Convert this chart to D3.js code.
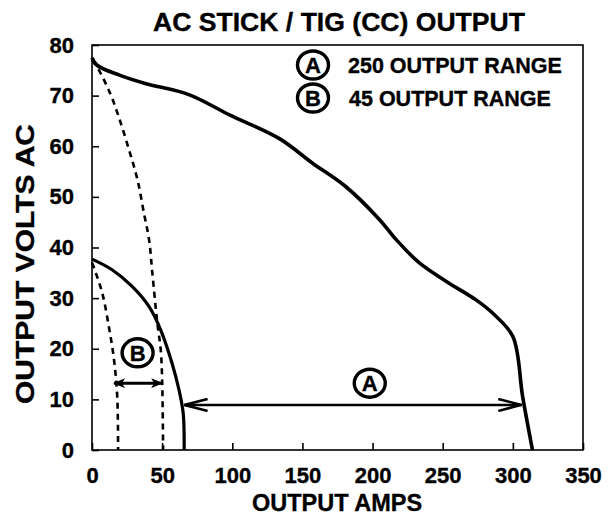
<!DOCTYPE html>
<html>
<head>
<meta charset="utf-8">
<script src="https://cdn.jsdelivr.net/npm/d3@7"></script>
<style>
html,body{margin:0;padding:0;background:#fff;}
text{font-family:"Liberation Sans",Arial,sans-serif;font-weight:bold;fill:#000;stroke:#000;stroke-width:0.35px;}
</style>
</head>
<body>
<svg id="chart" width="615" height="519"></svg>
<script>
const title = "AC STICK / TIG (CC) OUTPUT";
const xLabel = "OUTPUT AMPS";
const yLabel = "OUTPUT VOLTS AC";
const xTicks = [0, 50, 100, 150, 200, 250, 300, 350];
const yTicks = [0, 10, 20, 30, 40, 50, 60, 70, 80];
const legendItems = [["A", "250 OUTPUT RANGE"], ["B", "45 OUTPUT RANGE"]];

// [amps, volts]
const range250Max = [[0,77.5],[3.6,76],[20,74],[38,72.4],[69,70.2],[98,66.2],[133.6,61.5],[157,56.7],[181,52],[205,45.5],[217,41.5],[233.6,36.9],[252.6,33.3],[274,29.6],[285.7,27],[300,22.4],[307,10.5],[314,0]];
const range250Min = [[0,77],[5,75],[13.3,70.2],[19.3,65.6],[26.4,59.3],[32.4,53.4],[37,46.8],[40.7,41.5],[43,35],[46.6,25],[49,19.8],[50,13.8],[50.7,0]];
const range45Max = [[0,37.7],[14.3,35.6],[28.6,32.3],[40.7,28.3],[49,23.7],[57,17.2],[62,11.9],[65,7.3],[65.7,0]];
const range45Min = [[0,37],[1.4,36],[7.3,31],[12,24.4],[15.7,17.8],[18,10.5],[18.6,0]];

// annotations
const arrowA = {y: 8.9, x0: 66, x1: 306, label: "A", lx: 198, ly: 13.2};
const arrowB = {y: 13.2, x0: 15.7, x1: 50, label: "B", lx: 32.5, ly: 19.2};

const svg = d3.select("#chart");
const m = {left: 92, right: 32, top: 45, bottom: 69};
const W = 615, H = 519;
const x = d3.scaleLinear().domain([0, 350]).range([m.left, W - m.right]);
const y = d3.scaleLinear().domain([0, 80]).range([H - m.bottom, m.top]);

// frame
svg.append("rect").attr("x", x(0)).attr("y", y(80)).attr("width", x(350)-x(0)).attr("height", y(0)-y(80))
  .attr("fill", "none").attr("stroke", "#000").attr("stroke-width", 1.6);

// axes with inward ticks
const xAxis = svg.append("g").attr("transform", `translate(0,${y(0)})`)
  .call(d3.axisBottom(x).tickValues(xTicks).tickSize(-7).tickPadding(17).tickFormat(d3.format("d")));
const yAxis = svg.append("g").attr("transform", `translate(${x(0)},0)`)
  .call(d3.axisLeft(y).tickValues(yTicks).tickSize(-7).tickPadding(18).tickFormat(d3.format("d")));
[xAxis, yAxis].forEach(g => {
  g.select(".domain").remove();
  g.selectAll(".tick line").attr("stroke", "#000").attr("stroke-width", 1.6);
  g.selectAll(".tick text").attr("fill", "#000")
    .style("font-size", "22px").style("font-family", '"Liberation Sans",Arial,sans-serif').style("font-weight", "bold");
});
xAxis.selectAll(".tick text").attr("dy", "0.71em");

// title and labels
svg.append("text").attr("x", 339).attr("y", 31).attr("text-anchor", "middle").style("font-size", "25px")
  .attr("textLength", 372).attr("lengthAdjust", "spacingAndGlyphs").text(title);
svg.append("text").attr("x", 337).attr("y", 511).attr("text-anchor", "middle").style("font-size", "23.5px").text(xLabel);
svg.append("text").attr("transform", `translate(34,264) rotate(-90)`).attr("text-anchor", "middle").style("font-size", "26px")
  .attr("textLength", 280).attr("lengthAdjust", "spacingAndGlyphs").text(yLabel);

// curves
const line = d3.line().x(d => x(d[0])).y(d => y(d[1])).curve(d3.curveCatmullRom.alpha(0.5));
const curves = [
  {data: range250Max, dash: null, w: 3.6},
  {data: range250Min, dash: "6,5", w: 2.6},
  {data: range45Max, dash: null, w: 3.2},
  {data: range45Min, dash: "6,5", w: 2.6}
];
svg.selectAll("path.curve").data(curves).join("path").attr("class", "curve")
  .attr("d", d => line(d.data)).attr("fill", "none").attr("stroke", "#000")
  .attr("stroke-width", d => d.w).attr("stroke-dasharray", d => d.dash)
  .attr("stroke-linejoin", "round");

// arrowheads
const defs = svg.append("defs");
defs.append("marker").attr("id", "head").attr("viewBox", "0 0 12 10").attr("refX", 11).attr("refY", 5)
  .attr("markerWidth", 12).attr("markerHeight", 10).attr("markerUnits", "userSpaceOnUse").attr("orient", "auto-start-reverse")
  .append("path").attr("d", "M0,0 L12,5 L0,10 L3,5 Z").attr("fill", "#000");
defs.append("marker").attr("id", "openhead").attr("viewBox", "0 0 24 14").attr("refX", 23).attr("refY", 7)
  .attr("markerWidth", 24).attr("markerHeight", 14).attr("markerUnits", "userSpaceOnUse").attr("orient", "auto-start-reverse")
  .append("path").attr("d", "M0,1 L23,7 L0,13").attr("fill", "none").attr("stroke", "#000").attr("stroke-width", 2.6);

svg.append("line").attr("x1", x(arrowA.x0)).attr("x2", x(arrowA.x1)).attr("y1", y(arrowA.y)).attr("y2", y(arrowA.y))
  .attr("stroke", "#000").attr("stroke-width", 2.4).attr("marker-start", "url(#openhead)").attr("marker-end", "url(#openhead)");
svg.append("line").attr("x1", x(arrowB.x0)).attr("x2", x(arrowB.x1)).attr("y1", y(arrowB.y)).attr("y2", y(arrowB.y))
  .attr("stroke", "#000").attr("stroke-width", 3).attr("marker-start", "url(#head)").attr("marker-end", "url(#head)");

function badge(cx, cy, letter) {
  svg.append("ellipse").attr("cx", cx).attr("cy", cy).attr("rx", 15.5).attr("ry", 14)
    .attr("fill", "#fff").attr("stroke", "#000").attr("stroke-width", 3.4);
  svg.append("text").attr("x", cx).attr("y", cy + 8).attr("text-anchor", "middle").style("font-size", "22px").text(letter);
}
badge(x(arrowA.lx), y(arrowA.ly), arrowA.label);
badge(x(arrowB.lx), y(arrowB.ly), arrowB.label);

// legend
legendItems.forEach((d, i) => {
  const cy = 65 + i * 33;
  badge(313, cy, d[0]);
  svg.append("text").attr("x", 348 + i * 1).attr("y", cy + 8).style("font-size", "21.5px").text(d[1]);
});
</script>
</body>
</html>
